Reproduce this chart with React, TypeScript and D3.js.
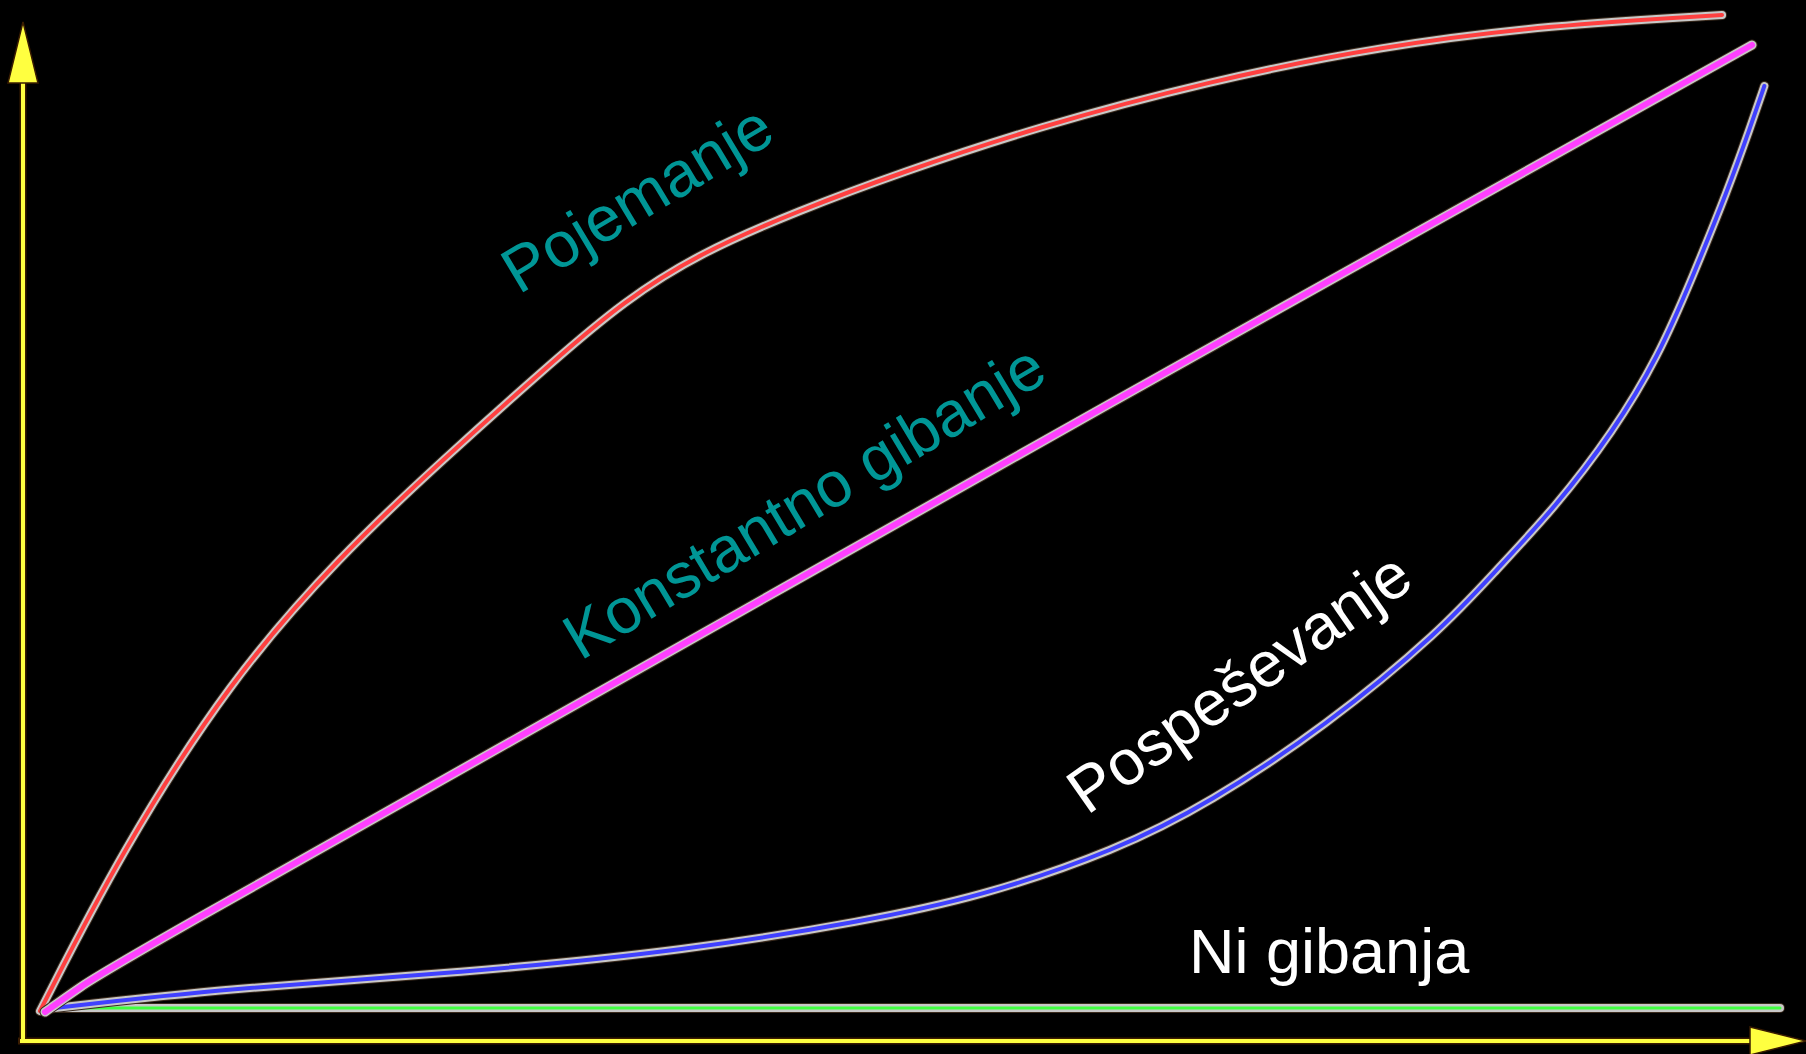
import React from "react";
import * as d3 from "d3";

const W = 1806;
const H = 1054;

// data in abstract units (time 0..100, position 0..100)
const pojemanje: [number, number][] = [
  [0, 0.2], [4.66, 16.1], [10.92, 33.3], [17.24, 45.7], [23.0, 55.1], [29.7, 65.5],
  [33.5, 71.1], [37.9, 76.0], [43.7, 80.3], [49.4, 84.0], [57.3, 88.6], [67.18, 93.2],
  [77.13, 96.7], [86.84, 98.8], [96.67, 99.8],
];
const konstantno: [number, number][] = [
  [0.29, 0.1], [2.3, 2.6], [4.43, 5.0], [35.6, 35.5], [58.5, 58.1], [98.39, 96.8],
];
const pospesevanje: [number, number][] = [
  [0.34, 0.4], [10.92, 2.5], [24.2, 4.0], [37.4, 6.3], [47.4, 9.2], [54.0, 11.6],
  [61.9, 16.3], [67.2, 21.0], [73.9, 28.7], [80.5, 38.2], [83.7, 44.3], [87.1, 50.6],
  [90.4, 58.1], [93.0, 65.6], [95.0, 73.7], [97.0, 82.3], [98.3, 88.6], [99.1, 92.7],
];
const niGibanja: [number, number][] = [[0.3, 0.5], [100, 0.5]];

const labels = [
  { text: "Pojemanje", x: 34.3, y: 81.5, angle: -31, color: "#009696" },
  { text: "Konstantno gibanje", x: 43.9, y: 51.2, angle: -31, color: "#009696" },
  { text: "Pospeševanje", x: 68.9, y: 33.1, angle: -35, color: "#ffffff" },
];

export default function App() {
  const x = d3.scaleLinear().domain([0, 100]).range([40, 1780]);
  const y = d3.scaleLinear().domain([0, 100]).range([1013, 13]);
  const mk = (curve: d3.CurveFactory) =>
    d3
      .line<[number, number]>()
      .x((d) => x(d[0]))
      .y((d) => y(d[1]))
      .curve(curve);

  const series = [
    { data: niGibanja, color: "#40ff40", core: 3, halo: 8, curve: d3.curveLinear },
    { data: pospesevanje, color: "#4040ff", core: 4, halo: 8, curve: d3.curveBasis },
    { data: pojemanje, color: "#ff4040", core: 4, halo: 8, curve: d3.curveBasis },
    { data: konstantno, color: "#ff40ff", core: 6, halo: 9, curve: d3.curveBasis },
  ];

  const axisColor = "#ffff40";
  const edge = "#3a1c00";
  const ax0 = 23;
  const ay0 = 1041;

  return (
    <svg
      width={W}
      height={H}
      style={{ position: "absolute", left: 0, top: 0, background: "#000" }}
    >
      <rect x={0} y={0} width={W} height={H} fill="#000" />
      {series.map((s, i) => {
        const d = mk(s.curve)(s.data) || "";
        return (
          <g key={i} fill="none" strokeLinecap="round" strokeLinejoin="round">
            <path d={d} stroke="#3a2a1c" strokeWidth={s.halo + 2} />
            <path d={d} stroke="#c8c8c8" strokeWidth={s.halo} />
            <path d={d} stroke={s.color} strokeWidth={s.core} />
          </g>
        );
      })}

      {/* axes */}
      <g>
        <line x1={ax0} y1={ay0} x2={ax0} y2={60} stroke={edge} strokeWidth={7} />
        <line x1={18} y1={ay0} x2={1770} y2={ay0} stroke={edge} strokeWidth={7} />
        <line x1={ax0} y1={ay0 + 2} x2={ax0} y2={60} stroke={axisColor} strokeWidth={4} />
        <line x1={20} y1={ay0} x2={1770} y2={ay0} stroke={axisColor} strokeWidth={4} />
        <path
          d={`M${ax0},22 L${ax0 + 15},83 L${ax0 - 15},83 Z`}
          fill={axisColor}
          stroke={edge}
          strokeWidth={1.5}
        />
        <path
          d={`M1806,${ay0} L1750,${ay0 - 14} L1750,${ay0 + 14} Z`}
          fill={axisColor}
          stroke={edge}
          strokeWidth={1.5}
        />
      </g>

      {labels.map((l, i) => (
        <text
          key={i}
          transform={`translate(${x(l.x)},${y(l.y)}) rotate(${l.angle})`}
          textAnchor="middle"
          dy="0.35em"
          fill={l.color}
          fontFamily="'Liberation Sans', Arial, sans-serif"
          fontSize={64}
        >
          {l.text}
        </text>
      ))}
      <text
        x={1189}
        y={973}
        fill="#ffffff"
        fontFamily="'Liberation Sans', Arial, sans-serif"
        fontSize={63}
      >
        Ni gibanja
      </text>
    </svg>
  );
}
